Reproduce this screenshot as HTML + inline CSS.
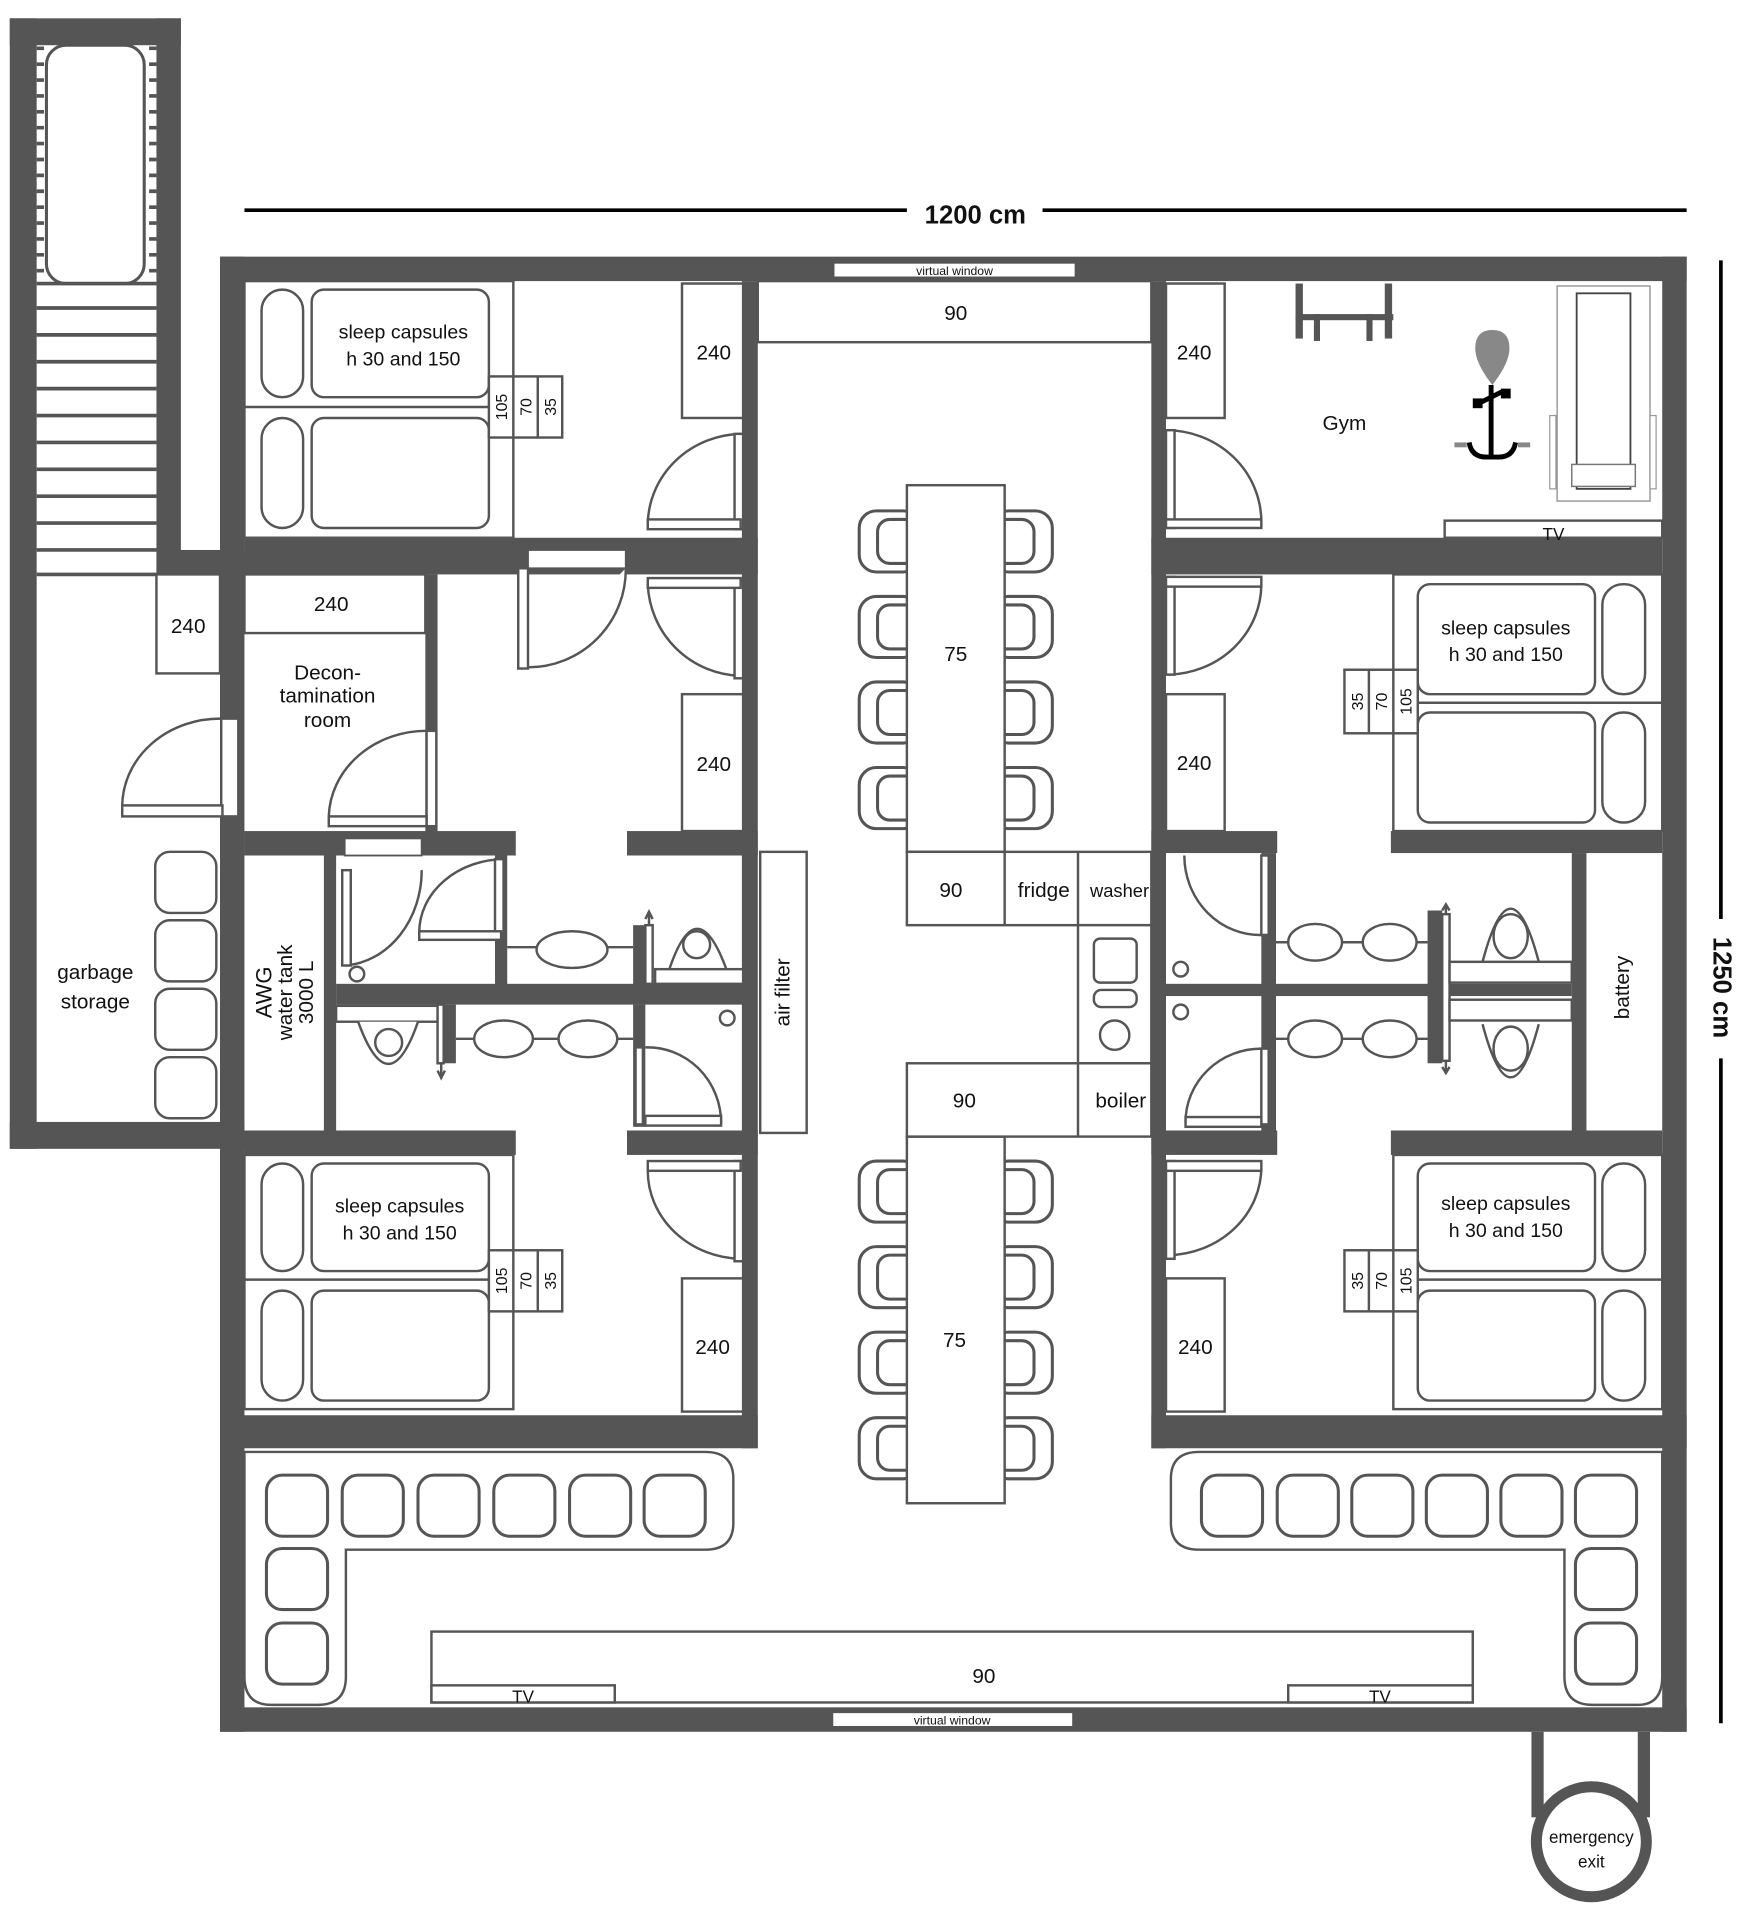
<!DOCTYPE html>
<html><head><meta charset="utf-8"><style>
html,body{margin:0;padding:0;background:#fff}
svg{display:block}
text{font-family:"Liberation Sans",sans-serif;fill:#111}
</style></head><body>
<svg width="1760" height="1920" viewBox="0 0 1440 1571" preserveAspectRatio="none" xmlns="http://www.w3.org/2000/svg">
<defs>
<g id="chairL"><rect x="703" y="0" width="50" height="50" rx="14" fill="#fff" stroke="#555" stroke-width="2.5"/><rect x="718" y="7" width="35" height="36" rx="10" fill="#fff" stroke="#555" stroke-width="2.5"/></g>
<g id="chairR"><rect x="811" y="0" width="50" height="50" rx="14" fill="#fff" stroke="#555" stroke-width="2.5"/><rect x="811" y="7" width="35" height="36" rx="10" fill="#fff" stroke="#555" stroke-width="2.5"/></g>
<rect id="cush" width="50" height="50" rx="13" fill="#fff" stroke="#555" stroke-width="2.5"/>
</defs>
<g fill="none" stroke="#555" stroke-width="2">
<g stroke="#555" stroke-width="3">
<line x1="30" y1="252" x2="128" y2="252"/><line x1="30" y1="274" x2="128" y2="274"/><line x1="30" y1="296" x2="128" y2="296"/><line x1="30" y1="318" x2="128" y2="318"/><line x1="30" y1="340" x2="128" y2="340"/><line x1="30" y1="362" x2="128" y2="362"/><line x1="30" y1="384" x2="128" y2="384"/><line x1="30" y1="406" x2="128" y2="406"/><line x1="30" y1="428" x2="128" y2="428"/><line x1="30" y1="450" x2="128" y2="450"/><line x1="30" y1="470" x2="128" y2="470"/><line x1="30" y1="232" x2="128" y2="232"/>
</g>
<g stroke="#555" stroke-width="6" stroke-dasharray="3 10"><line x1="33" y1="38" x2="33" y2="232"/><line x1="125" y1="38" x2="125" y2="232"/></g>
<rect x="38" y="37" width="80" height="195" rx="16" stroke-width="2.5"/>
</g>
<g fill="#555">
<rect x="8" y="15" width="22" height="925"/><rect x="8" y="15" width="140" height="22"/><rect x="128" y="15" width="20" height="455"/><rect x="128" y="450" width="72" height="20"/><rect x="8" y="918" width="192" height="22"/>
<rect x="180" y="210" width="1200" height="20"/><rect x="180" y="1397" width="1200" height="20"/><rect x="180" y="210" width="20" height="1207"/><rect x="1360" y="210" width="20" height="1207"/>
<rect x="200" y="440" width="420" height="30"/><rect x="942" y="440" width="418" height="30"/>
<rect x="607" y="230" width="13" height="955"/><rect x="942" y="230" width="12" height="955"/>
<rect x="348" y="470" width="10" height="212"/>
<rect x="200" y="680" width="222" height="20"/><rect x="513" y="680" width="107" height="20"/>
<rect x="265" y="700" width="10" height="225"/><rect x="275" y="805" width="333" height="17"/><rect x="405" y="700" width="10" height="108"/><rect x="518" y="757" width="10" height="65"/><rect x="363" y="822" width="10" height="48"/><rect x="518" y="822" width="10" height="100"/>
<rect x="200" y="925" width="222" height="20"/><rect x="513" y="925" width="107" height="20"/>
<rect x="942" y="680" width="103" height="18"/><rect x="1138" y="680" width="222" height="18"/>
<rect x="942" y="925" width="103" height="20"/><rect x="1138" y="925" width="222" height="20"/>
<rect x="1286" y="698" width="12" height="227"/><rect x="954" y="805" width="332" height="10"/><rect x="1032" y="698" width="12" height="227"/><rect x="1168" y="745" width="12" height="125"/>
<rect x="180" y="1158" width="440" height="27"/><rect x="942" y="1158" width="438" height="27"/>
<rect x="1253" y="1417" width="10" height="70"/><rect x="1340" y="1417" width="10" height="70"/>
</g>
<circle cx="1302" cy="1507" r="45" fill="#fff" stroke="#555" stroke-width="9"/>
<g fill="#fff" stroke="#555" stroke-width="1.5">
<rect x="682" y="215" width="198" height="12"/><rect x="681" y="1401" width="197" height="12"/>
<rect x="432" y="450" width="80" height="15"/><rect x="282" y="686" width="63" height="14"/>
</g>
<g fill="#fff" stroke="#555" stroke-width="2">
<rect x="200" y="230" width="220" height="210"/><line x1="200" y1="333" x2="420" y2="333"/>
<rect x="214" y="237" width="34" height="88" rx="17"/><rect x="214" y="342" width="34" height="90" rx="17"/>
<rect x="255" y="237" width="145" height="88" rx="10"/><rect x="255" y="342" width="145" height="90" rx="10"/>
<rect x="400" y="308" width="60" height="50"/><line x1="420" y1="308" x2="420" y2="358"/><line x1="440" y1="308" x2="440" y2="358"/>
<rect x="558" y="232" width="50" height="110"/>
<path d="M530 428 A78 75 0 0 1 606 355"/><rect x="601" y="355" width="7" height="78"/><rect x="530" y="425" width="76" height="8"/>
<rect x="620" y="230" width="322" height="50"/>
<use href="#chairL" y="418"/><use href="#chairL" y="488"/><use href="#chairL" y="558"/><use href="#chairL" y="628"/>
<use href="#chairR" y="418"/><use href="#chairR" y="488"/><use href="#chairR" y="558"/><use href="#chairR" y="628"/>
<use href="#chairL" y="950"/><use href="#chairL" y="1020"/><use href="#chairL" y="1090"/><use href="#chairL" y="1160"/>
<use href="#chairR" y="950"/><use href="#chairR" y="1020"/><use href="#chairR" y="1090"/><use href="#chairR" y="1160"/>
<rect x="742" y="397" width="80" height="300"/><rect x="742" y="930" width="80" height="300"/>
<rect x="742" y="697" width="200" height="60"/><line x1="822" y1="697" x2="822" y2="757"/><line x1="882" y1="697" x2="882" y2="757"/>
<rect x="882" y="757" width="60" height="113"/>
<rect x="895" y="768" width="35" height="36" rx="5"/><rect x="895" y="810" width="35" height="14" rx="6"/><ellipse cx="912" cy="847" rx="12" ry="12"/>
<rect x="742" y="870" width="200" height="60"/><line x1="882" y1="870" x2="882" y2="930"/>
<rect x="558" y="568" width="50" height="112"/>
<path d="M530 478 A78 78 0 0 0 606 553"/><rect x="601" y="475" width="7" height="80"/><rect x="530" y="473" width="76" height="8"/>
<path d="M512 465 A80 80 0 0 1 432 546"/><rect x="424" y="465" width="8" height="82"/>
<rect x="128" y="470" width="52" height="81"/>
<path d="M100 660 A80 72 0 0 1 182 588"/><rect x="181" y="588" width="14" height="80"/><rect x="100" y="659" width="82" height="9"/>
<rect x="127" y="697" width="50" height="50" rx="12"/><rect x="127" y="753" width="50" height="50" rx="12"/><rect x="127" y="809" width="50" height="50" rx="12"/><rect x="127" y="865" width="50" height="50" rx="12"/>
<rect x="200" y="470" width="148" height="48"/>
<path d="M269 668 A80 72 0 0 1 350 598"/><rect x="349" y="598" width="8" height="78"/><rect x="269" y="668" width="80" height="8"/>
<path d="M345 712 A67 78 0 0 1 283 790"/><rect x="280" y="712" width="7" height="78"/>
<path d="M343 763 A70 60 0 0 1 413 703"/><rect x="405" y="703" width="7" height="60"/><rect x="343" y="762" width="67" height="7"/>
<line x1="415" y1="775" x2="518" y2="775"/><ellipse cx="468" cy="777" rx="29" ry="15"/>
<rect x="528" y="757" width="6" height="48"/><path d="M531 757 V748 M528 752 L531 746 L534 752"/>
<path d="M547 795 Q570 725 595 795"/><circle cx="570" cy="773" r="11"/><rect x="536" y="793" width="72" height="12"/>
<circle cx="292" cy="797" r="6"/><circle cx="595" cy="833" r="6"/>
<rect x="275" y="823" width="85" height="13"/><path d="M293 836 Q318 905 342 836"/><circle cx="318" cy="853" r="11"/>
<rect x="358" y="822" width="5" height="48"/><path d="M361 870 V880 M358 876 L361 882 L364 876"/>
<line x1="373" y1="850" x2="518" y2="850"/><ellipse cx="412" cy="850" rx="24" ry="15"/><ellipse cx="481" cy="850" rx="24" ry="15"/>
<path d="M528 857 A60 62 0 0 1 590 919"/><rect x="520" y="857" width="6" height="63"/><rect x="528" y="913" width="62" height="8"/>
<rect x="622" y="697" width="38" height="230"/>
<rect x="200" y="945" width="220" height="208"/><line x1="200" y1="1047" x2="420" y2="1047"/>
<rect x="214" y="952" width="34" height="88" rx="17"/><rect x="214" y="1056" width="34" height="90" rx="17"/>
<rect x="255" y="952" width="145" height="88" rx="10"/><rect x="255" y="1056" width="145" height="90" rx="10"/>
<rect x="400" y="1023" width="60" height="50"/><line x1="420" y1="1023" x2="420" y2="1073"/><line x1="440" y1="1023" x2="440" y2="1073"/>
<rect x="558" y="1046" width="50" height="109"/>
<path d="M530 958 A78 72 0 0 0 606 1030"/><rect x="601" y="950" width="7" height="82"/><rect x="530" y="950" width="76" height="8"/>
<rect x="954" y="232" width="48" height="110"/>
<path d="M954 352 A78 75 0 0 1 1032 427"/><rect x="954" y="352" width="7" height="80"/><rect x="954" y="425" width="78" height="7"/>
<rect x="1182" y="426" width="178" height="14"/>
<rect x="1274" y="234" width="76" height="176" stroke="#999" stroke-width="1.2"/>
<rect x="1290" y="240" width="44" height="160" stroke="#444" stroke-width="1.5"/>
<rect x="1286" y="380" width="52" height="18" stroke="#777" stroke-width="1.2"/>
<rect x="1268" y="340" width="5" height="60" stroke="#999" stroke-width="1"/><rect x="1350" y="340" width="5" height="60" stroke="#999" stroke-width="1"/>
</g>
<g fill="#555"><rect x="1060" y="232" width="6" height="45"/><rect x="1133" y="232" width="6" height="45"/><rect x="1060" y="257" width="80" height="5"/><rect x="1075" y="257" width="5" height="22"/><rect x="1118" y="257" width="5" height="22"/></g>
<path d="M1221 270 q-14 0 -14 15 q0 12 14 30 q14 -18 14 -30 q0 -15 -14 -15z" fill="#888"/>
<g stroke="#000" stroke-width="4" fill="none"><path d="M1220 315 V375"/><path d="M1202 362 q2 12 14 12 h10 q12 0 14 -12"/><path d="M1210 330 L1230 320"/></g>
<rect x="1205" y="326" width="8" height="8" fill="#000"/><rect x="1228" y="318" width="8" height="8" fill="#000"/>
<rect x="1190" y="362" width="10" height="4" fill="#888"/><rect x="1242" y="362" width="10" height="4" fill="#888"/>
<g fill="#fff" stroke="#555" stroke-width="2">
<path d="M1032 478 A78 74 0 0 1 956 552"/><rect x="954" y="472" width="7" height="80"/><rect x="954" y="472" width="78" height="8"/>
<rect x="954" y="568" width="48" height="112"/>
<rect x="1140" y="470" width="220" height="210"/><line x1="1140" y1="575" x2="1360" y2="575"/>
<rect x="1160" y="478" width="145" height="90" rx="10"/><rect x="1311" y="478" width="35" height="90" rx="17"/>
<rect x="1160" y="583" width="145" height="90" rx="10"/><rect x="1311" y="583" width="35" height="90" rx="17"/>
<rect x="1100" y="548" width="60" height="52"/><line x1="1120" y1="548" x2="1120" y2="600"/><line x1="1140" y1="548" x2="1140" y2="600"/>
<path d="M969 700 A62 65 0 0 0 1033 765"/><rect x="1032" y="700" width="6" height="65"/>
<circle cx="966" cy="793" r="6"/><circle cx="966" cy="828" r="6"/>
<line x1="1044" y1="771" x2="1168" y2="771"/><ellipse cx="1076" cy="771" rx="22" ry="15"/><ellipse cx="1137" cy="771" rx="22" ry="15"/>
<line x1="1044" y1="850" x2="1168" y2="850"/><ellipse cx="1076" cy="850" rx="22" ry="15"/><ellipse cx="1137" cy="850" rx="22" ry="15"/>
<rect x="1180" y="748" width="6" height="120"/><path d="M1183 748 V740 M1180 745 L1183 740 L1186 745 M1183 868 V878 M1180 873 L1183 878 L1186 873"/>
<path d="M1213 787 Q1236 700 1259 787"/><ellipse cx="1236" cy="766" rx="14" ry="18"/><rect x="1186" y="787" width="100" height="17"/>
<path d="M1213 838 Q1236 925 1259 838"/><ellipse cx="1236" cy="858" rx="14" ry="18"/><rect x="1186" y="818" width="100" height="17"/>
<path d="M970 918 A62 60 0 0 1 1032 858"/><rect x="1032" y="858" width="6" height="62"/><rect x="970" y="914" width="62" height="8"/>
<path d="M1032 955 A78 72 0 0 1 956 1027"/><rect x="954" y="950" width="7" height="80"/><rect x="954" y="950" width="78" height="8"/>
<rect x="954" y="1046" width="48" height="109"/>
<rect x="1140" y="945" width="220" height="208"/><line x1="1140" y1="1047" x2="1360" y2="1047"/>
<rect x="1160" y="952" width="145" height="88" rx="10"/><rect x="1311" y="952" width="35" height="88" rx="17"/>
<rect x="1160" y="1056" width="145" height="90" rx="10"/><rect x="1311" y="1056" width="35" height="90" rx="17"/>
<rect x="1100" y="1023" width="60" height="50"/><line x1="1120" y1="1023" x2="1120" y2="1073"/><line x1="1140" y1="1023" x2="1140" y2="1073"/>
<path d="M200 1188 H577 Q600 1188 600 1210 V1246 Q600 1268 577 1268 H283 V1372 Q283 1395 260 1395 H222 Q200 1395 200 1372 Z"/>
<path d="M1360 1188 H981 Q958 1188 958 1210 V1246 Q958 1268 981 1268 H1280 V1372 Q1280 1395 1303 1395 H1340 Q1360 1395 1360 1372 Z"/>
<rect x="353" y="1335" width="852" height="58"/>
<rect x="353" y="1379" width="150" height="14"/><rect x="1054" y="1379" width="151" height="14"/>
</g>
<g>
<use href="#cush" x="218" y="1207"/><use href="#cush" x="280" y="1207"/><use href="#cush" x="342" y="1207"/><use href="#cush" x="404" y="1207"/><use href="#cush" x="466" y="1207"/><use href="#cush" x="527" y="1207"/>
<use href="#cush" x="218" y="1267"/><use href="#cush" x="218" y="1328"/>
<use href="#cush" x="983" y="1207"/><use href="#cush" x="1045" y="1207"/><use href="#cush" x="1106" y="1207"/><use href="#cush" x="1167" y="1207"/><use href="#cush" x="1228" y="1207"/><use href="#cush" x="1289" y="1207"/>
<use href="#cush" x="1289" y="1267"/><use href="#cush" x="1289" y="1328"/>
</g>
<g stroke="#000" stroke-width="3"><line x1="200" y1="172" x2="742" y2="172"/><line x1="853" y1="172" x2="1380" y2="172"/><line x1="1408" y1="213" x2="1408" y2="752"/><line x1="1408" y1="866" x2="1408" y2="1410"/></g>
<g text-anchor="middle" font-size="17">
<text x="798" y="183" font-weight="bold" font-size="21">1200 cm</text>
<text transform="translate(1402,808) rotate(90)" font-weight="bold" font-size="21">1250 cm</text>
<text x="781" y="225" font-size="10">virtual window</text><text x="779" y="1411" font-size="10">virtual window</text>
<text x="330" y="277" font-size="16">sleep capsules</text><text x="330" y="299" font-size="16">h 30 and 150</text>
<text x="327" y="992" font-size="16">sleep capsules</text><text x="327" y="1014" font-size="16">h 30 and 150</text>
<text x="1232" y="519" font-size="16">sleep capsules</text><text x="1232" y="541" font-size="16">h 30 and 150</text>
<text x="1232" y="990" font-size="16">sleep capsules</text><text x="1232" y="1012" font-size="16">h 30 and 150</text>
<g font-size="13">
<text transform="translate(415,333) rotate(-90)">105</text><text transform="translate(435,333) rotate(-90)">70</text><text transform="translate(455,333) rotate(-90)">35</text>
<text transform="translate(415,1048) rotate(-90)">105</text><text transform="translate(435,1048) rotate(-90)">70</text><text transform="translate(455,1048) rotate(-90)">35</text>
<text transform="translate(1115,574) rotate(-90)">35</text><text transform="translate(1135,574) rotate(-90)">70</text><text transform="translate(1155,574) rotate(-90)">105</text>
<text transform="translate(1115,1048) rotate(-90)">35</text><text transform="translate(1135,1048) rotate(-90)">70</text><text transform="translate(1155,1048) rotate(-90)">105</text>
</g>
<text x="584" y="294">240</text><text x="977" y="294">240</text><text x="154" y="518">240</text><text x="271" y="500">240</text>
<text x="584" y="631">240</text><text x="977" y="630">240</text><text x="583" y="1108">240</text><text x="978" y="1108">240</text>
<text x="782" y="262">90</text><text x="782" y="541">75</text><text x="781" y="1102">75</text>
<text x="778" y="734">90</text><text x="854" y="734">fridge</text><text x="916" y="734" font-size="15">washer</text>
<text x="789" y="906">90</text><text x="917" y="906">boiler</text>
<text x="805" y="1377">90</text>
<text x="428" y="1393" font-size="14">TV</text><text x="1129" y="1393" font-size="14">TV</text><text x="1271" y="442" font-size="14">TV</text>
<text x="268" y="556">Decon-</text><text x="268" y="575">tamination</text><text x="268" y="595">room</text>
<text x="78" y="801">garbage</text><text x="78" y="825">storage</text>
<text x="1100" y="352">Gym</text>
<text transform="translate(222,812) rotate(-90)" font-size="18">AWG</text><text transform="translate(239,812) rotate(-90)">water tank</text><text transform="translate(256,812) rotate(-90)">3000 L</text>
<text transform="translate(646,812) rotate(-90)">air filter</text>
<text transform="translate(1333,808) rotate(-90)">battery</text>
<text x="1302" y="1508" font-size="14">emergency</text><text x="1302" y="1528" font-size="14">exit</text>
</g>
</svg>
</body></html>
